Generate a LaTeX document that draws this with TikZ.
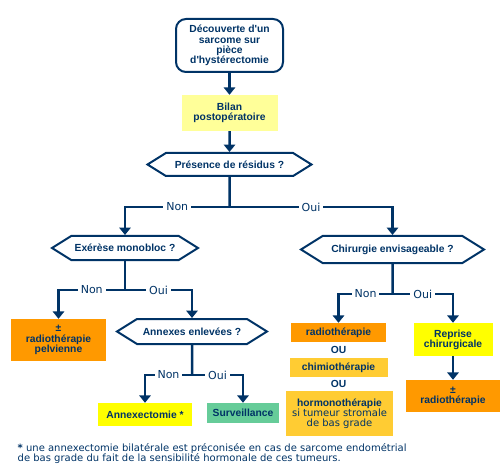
\documentclass[tikz,border=0pt]{standalone}
\usepackage{fontspec}
\setmainfont{DejaVu Sans}
\newfontfamily\boxfont{Liberation Sans}
\definecolor{chart blue}{HTML}{003366}
\definecolor{bilan yellow}{HTML}{FFFF99}
\definecolor{radio orange}{HTML}{FF9900}
\definecolor{chimio orange}{HTML}{FFCC33}
\definecolor{reprise yellow}{HTML}{FFFF00}
\definecolor{surveillance green}{HTML}{66CC99}
\usetikzlibrary{positioning,arrows.meta,shapes.symbols}
\tikzstyle{line} = [line width=2.5pt, draw=chart blue]
\tikzstyle{line>} = [line,-{Triangle[length=2.6mm, width=4mm]}]
\tikzstyle{box node}=[rectangle, inner sep=1pt, align=center, text=chart blue, font=\boxfont\bfseries\fontsize{10.3}{10.2}\selectfont]
\tikzstyle{question node}=[box node, shape=signal, signal to=west and east, signal pointer angle=64, draw=chart blue, line width=2pt]
\tikzstyle{branch label}=[fill=white, inner xsep=3pt, inner ysep=0pt, text=chart blue, font=\fontsize{11}{12}\selectfont]

\begin{document}
\begin{tikzpicture}[x=1pt, y=1pt]
        \useasboundingbox (0,0) rectangle (500,-470);

        \node[box node, draw=chart blue, line width=2pt, rounded corners=10pt, minimum width=107pt, minimum height=53pt] (decouverte) at (229.5,-45.5) {Découverte d'un\\sarcome sur\\pièce\\d'hystérectomie};
        \draw (decouverte) ++(0,-67.5) node[box node, fill=bilan yellow, minimum width=96pt, minimum height=36pt] (bilan) {Bilan\\postopératoire};
        \draw (bilan) ++(0,-51.5) node[question node, minimum width=164pt, minimum height=23pt] (presence) {Présence de résidus ?};

        \draw (presence) ++(-104.5,-83.5) node[question node, minimum width=146pt, minimum height=24pt] (exerese) {Exérèse monobloc ?};
        \draw (exerese) ++(-66.5,-92) node[box node, fill=radio orange, minimum width=95pt, minimum height=42pt] (pelvienne) {±\\radiothérapie\\pelvienne};
        \draw (exerese) ++(67,-83.5) node[question node, minimum width=150pt, minimum height=25pt] (annexes) {Annexes enlevées ?};
        \draw (annexes) ++(-47,-83) node[box node, fill=reprise yellow, minimum width=94pt, minimum height=23pt] (annexectomie) {Annexectomie *};
        \draw (annexes) ++(51,-81.5) node[box node, fill=surveillance green, minimum width=72pt, minimum height=20pt] (surveillance) {Surveillance};

        \draw (presence) ++(163,-85) node[question node, minimum width=183pt, minimum height=27pt] (chirurgie) {Chirurgie envisageable ?};
        \draw (chirurgie) ++(-54,-83) node[box node, fill=radio orange, minimum width=95pt, minimum height=19pt] (radio) {radiothérapie};
        \draw (radio) ++(0,-17.5) node[box node] (ou1) {OU};
        \draw (radio) ++(0,-35) node[box node, fill=chimio orange, minimum width=98pt, minimum height=19pt] (chimio) {chimiothérapie};
        \draw (chimio) ++(0,-16.5) node[box node] (ou2) {OU};
        \draw (chimio) ++(1,-46) node[box node, fill=chimio orange, minimum width=107pt, minimum height=45pt] (hormono) {hormonothérapie\\\mdseries\rmfamily\fontsize{10}{10.2}\selectfont si tumeur stromale\\\mdseries\rmfamily\fontsize{10}{10.2}\selectfont de bas grade};
        \draw (chirurgie) ++(60.5,-90) node[box node, fill=reprise yellow, minimum width=79pt, minimum height=33pt] (reprise) {Reprise\\chirurgicale};
        \draw (reprise) ++(0,-56.5) node[box node, fill=radio orange, minimum width=94pt, minimum height=32pt] (plusradio) {±\\radiothérapie};

        \node[anchor=base west, inner sep=0pt, align=left, text=chart blue, font=\fontsize{10}{10.5}\selectfont] (footnote) at (17.5,-461.5) {\textbf{*} une annexectomie bilatérale est préconisée en cas de sarcome endométrial\\de bas grade du fait de la sensibilité hormonale de ces tumeurs.};

        \coordinate[below=30pt of presence] (presence split);
        \coordinate[below=29pt of exerese] (exerese split);
        \coordinate[below=30pt of annexes] (annexes split);
        \coordinate[below=30pt of chirurgie] (chirurgie split);

        \draw[line>] (decouverte) -- (bilan);
        \draw[line>] (bilan) -- (presence);
        \draw[line] (presence) -- (presence split);
        \draw[line>] (presence split) -| node[branch label, pos=.25] {Non} (exerese);
        \draw[line>] (presence split) -| node[branch label, pos=.25] {Oui} (chirurgie);

        \draw[line] (exerese) -- (exerese split);
        \draw[line>] (exerese split) -| node[branch label, pos=.25] {Non} (pelvienne);
        \draw[line>] (exerese split) -| node[branch label, pos=.25] {Oui} (annexes);

        \draw[line] (annexes) -- (annexes split);
        \draw[line>] (annexes split) -| node[branch label, pos=.25] {Non} (annexectomie);
        \draw[line>] (annexes split) -| node[branch label, pos=.25] {Oui} (surveillance);

        \draw[line] (chirurgie) -- (chirurgie split);
        \draw[line>] (chirurgie split) -| node[branch label, pos=.25] {Non} (radio);
        \draw[line>] (chirurgie split) -| node[branch label, pos=.25] {Oui} (reprise);
        \draw[line>] (reprise) -- (plusradio);

    \end{tikzpicture}
\end{document}
